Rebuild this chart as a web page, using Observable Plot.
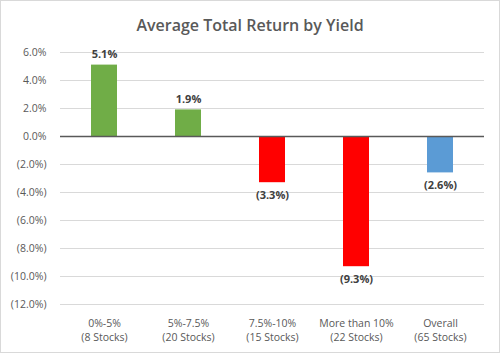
<!DOCTYPE html>
<html>
<head>
<meta charset="utf-8">
<script src="https://cdn.jsdelivr.net/npm/d3@7"></script>
<script src="https://cdn.jsdelivr.net/npm/@observablehq/plot@0.6"></script>
<style>
  html, body { margin: 0; padding: 0; background: #fff; }
  #wrap { position: relative; width: 500px; height: 353px; overflow: hidden; background: #fff; font-family: "Open Sans", "Liberation Sans", sans-serif; }
  #border { position: absolute; left: 0; top: 0; width: 500px; height: 353px; box-sizing: border-box; border: 1px solid #d9d9d9; pointer-events: none; }
  #title { height: 40px; box-sizing: border-box; line-height: 50px; text-align: center; font-size: 16px; font-weight: 600; color: #595959; }
  #chart svg { display: block; }
</style>
</head>
<body>
<div id="wrap">
  <div id="title">Average Total Return by Yield</div>
  <div id="chart"></div>
  <div id="border"></div>
</div>
<script>
const categories = ["0%-5%", "5%-7.5%", "7.5%-10%", "More than 10%", "Overall"];
const stockCounts = [8, 20, 15, 22, 65];
const returns = [5.1, 1.9, -3.3, -9.3, -2.6];
const barColors = ["#70AD47", "#70AD47", "#FF0000", "#FF0000", "#5B9BD5"];
const yTicks = [6, 4, 2, 0, -2, -4, -6, -8, -10, -12];

const data = categories.map((c, i) => ({
  category: c,
  label: c + "\n(" + stockCounts[i] + " Stocks)",
  value: returns[i],
  color: barColors[i]
}));

const fmt = v => {
  const s = Math.abs(v).toFixed(1) + "%";
  return v < 0 ? "(" + s + ")" : s;
};

const labelOf = new Map(data.map(d => [d.category, d.label]));

const plot = Plot.plot({
  width: 500,
  height: 313,
  marginTop: 12,
  marginBottom: 49,
  marginLeft: 60,
  marginRight: 16,
  style: { fontFamily: "'Open Sans', 'Liberation Sans', sans-serif", fontSize: "10.5px", color: "#595959", background: "transparent" },
  x: { domain: categories, paddingInner: 0.69, paddingOuter: 0.345, label: null },
  y: { domain: [-12, 6], label: null },
  marks: [
    Plot.ruleY(yTicks.filter(t => t !== 0), { stroke: "#D9D9D9", strokeWidth: 1 }),
    Plot.barY(data, { x: "category", y: "value", fill: "color" }),
    Plot.ruleY([0], { stroke: "#595959", strokeWidth: 1.6 }),
    Plot.axisY({ ticks: yTicks, tickFormat: fmt, tickSize: 0, tickPadding: 14, fill: "#595959", fontSize: 10.5, label: null }),
    Plot.axisX({ tickFormat: c => labelOf.get(c), tickSize: 0, tickPadding: 13, lineHeight: 1.3, fill: "#595959", fontSize: 10.5, label: null }),
    Plot.text(data, {
      x: "category", y: "value", text: d => fmt(d.value),
      lineAnchor: "bottom",
      filter: d => d.value >= 0,
      dy: -7,
      fontWeight: "bold", fill: "#404040", fontSize: 11
    }),
    Plot.text(data, {
      x: "category", y: "value", text: d => fmt(d.value),
      lineAnchor: "top",
      filter: d => d.value < 0,
      dy: 8,
      fontWeight: "bold", fill: "#404040", fontSize: 11
    })
  ]
});
document.getElementById("chart").appendChild(plot);
</script>
</body>
</html>
